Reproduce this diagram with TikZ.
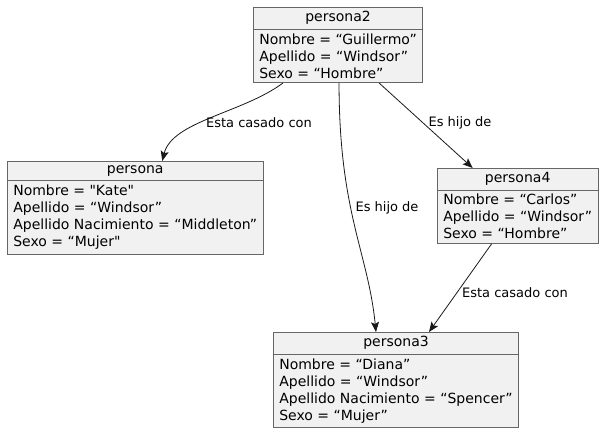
\documentclass[tikz,border=0pt]{standalone}
\usepackage{fontspec}
\setmainfont{DejaVu Sans}
\usetikzlibrary{shapes.multipart, arrows.meta}

\begin{document}
\begin{tikzpicture}[x=1pt, y=-1pt]
\useasboundingbox (0,0) rectangle (605,430);

\tikzstyle{objeto} = [rectangle split, rectangle split parts=2, rectangle split part align={center,left}, draw=black!60, fill=black!5.5, line width=0.6pt, inner xsep=6pt, inner ysep=4pt, font=\fontsize{14}{17}\selectfont, anchor=north west, align=left]
\tikzstyle{flecha} = [draw=black!90, line width=0.8pt, -{Stealth[length=10pt, width=8pt, inset=2pt]}]
\tikzstyle{etiqueta} = [font=\fontsize{13}{15}\selectfont, inner sep=0pt]

%Objetos
\node[objeto] (persona2) at (253,7) {persona2 \nodepart{second} Nombre = “Guillermo”\\Apellido = “Windsor”\\Sexo = “Hombre”};
\node[objeto] (persona) at (7,161) {persona \nodepart{second} Nombre = \textquotedbl Kate\textquotedbl\\Apellido = “Windsor”\\Apellido Nacimiento = “Middleton”\\Sexo = “Mujer\textquotedbl};
\node[objeto] (persona4) at (437,168) {persona4 \nodepart{second} Nombre = “Carlos”\\Apellido = “Windsor”\\Sexo = “Hombre”};
\node[objeto] (persona3) at (273,332) {persona3 \nodepart{second} Nombre = “Diana”\\Apellido = “Windsor”\\Apellido Nacimiento = “Spencer”\\Sexo = “Mujer”};

%Relaciones
\draw[flecha] ([xshift=30pt]persona2.south west) .. controls +(-40,30) and +(10,-40) .. ([xshift=27pt]persona.north);
\draw[flecha] ([xshift=1pt]persona2.south) .. controls +(0,130) and +(-8,-80) .. ([xshift=-20pt]persona3.north);
\draw[flecha] ([xshift=41pt]persona2.south) -- ([xshift=-45pt]persona4.north);
\draw[flecha] ([xshift=-26pt]persona4.south) -- ([xshift=33pt]persona3.north);

%Etiquetas
\node[etiqueta] (l1) at (259,123) {Esta casado con};
\node[etiqueta] (l2) at (387,208) {Es hijo de};
\node[etiqueta] (l3) at (460,123) {Es hijo de};
\node[etiqueta] (l4) at (515,293) {Esta casado con};

\end{tikzpicture}
\end{document}
